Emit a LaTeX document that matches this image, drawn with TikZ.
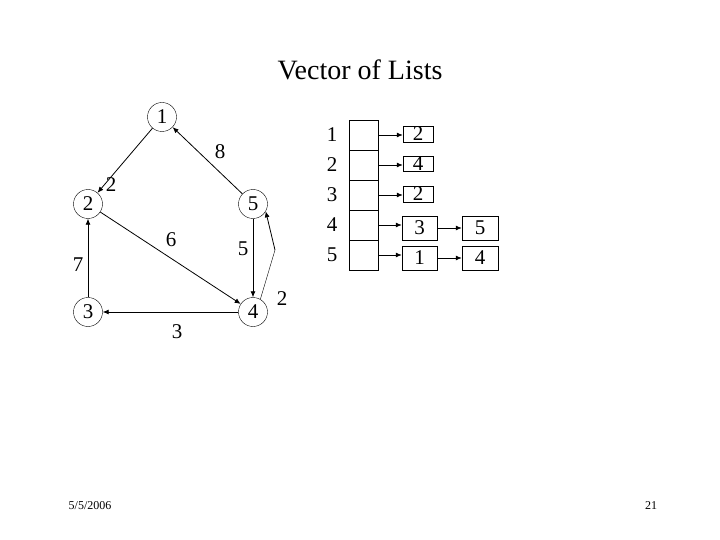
\documentclass[tikz,border=0pt]{standalone}
\usepackage{fontspec}
\setmainfont{Liberation Serif}
\usetikzlibrary{arrows.meta}
\begin{document}
\begin{tikzpicture}[x=1pt,y=-1pt,
  vert/.style={circle,draw,thin,minimum size=29pt,inner sep=0pt,font=\fontsize{21}{21}\selectfont},
  lbl/.style={font=\fontsize{21}{21}\selectfont,inner sep=0pt},
  cell/.style={draw,thin,minimum width=29pt,minimum height=30pt,inner sep=0pt},
  lbox/.style={draw,thin,inner sep=0pt,font=\fontsize{21}{21}\selectfont},
  edge/.style={thick,-{Latex[length=6pt,width=5pt]}}]
\useasboundingbox (0,0) rectangle (720,540);
\node[font=\fontsize{28}{28}\selectfont] (title) at (360,70) {Vector of Lists};
\node[vert] (n1) at (162,117) {1};
\node[vert] (n2) at (88,204) {2};
\node[vert] (n5) at (253,204) {5};
\node[vert] (n3) at (88,312) {3};
\node[vert] (n4) at (253,312) {4};
\draw[edge] (n1) -- (n2);
\draw[edge] (n5) -- (n1);
\draw[edge] (n2) -- (n4);
\draw[edge] (n5) -- (n4);
\draw[edge] (n3) -- (n2);
\draw[edge] (n4) -- (n3);
\coordinate (bend) at (275,250);
\draw[thin] (n4.60) -- (bend);
\draw[edge] (bend) -- (n5.-30);
\node[lbl] (w8) at (220,152) {8};
\node[lbl] (w2a) at (111,185) {2};
\node[lbl] (w6) at (171,240) {6};
\node[lbl] (w5) at (243,249) {5};
\node[lbl] (w7) at (78,265) {7};
\node[lbl] (w3) at (177,332) {3};
\node[lbl] (w2b) at (282,299) {2};
\foreach \i in {1,...,5}{
  \node[cell] (c\i) at (363.5,{105+30*\i}) {};
  \node[lbl] (r\i) at (332,{105+30*\i}) {\i};
}
\node[lbox,minimum width=30pt,minimum height=16pt] (a1) at (418,134) {2};
\node[lbox,minimum width=30pt,minimum height=15pt] (a2) at (418,164) {4};
\node[lbox,minimum width=30pt,minimum height=16pt] (a3) at (418,194) {2};
\node[lbox,minimum width=35pt,minimum height=24pt] (a4) at (419.5,228) {3};
\node[lbox,minimum width=36pt,minimum height=24pt] (b4) at (480,228) {5};
\node[lbox,minimum width=35pt,minimum height=24pt] (a5) at (419.5,258) {1};
\node[lbox,minimum width=36pt,minimum height=24pt] (b5) at (480,258) {4};
\foreach \i in {1,...,5}{
  \draw[edge] (c\i.center -| 378,0) ++(1,0) -- (a\i.west |- c\i.center);
}
\draw[edge] (a4) -- (b4);
\draw[edge] (a5) -- (b5);
\node[font=\fontsize{12}{12}\selectfont] (date) at (90,506) {5/5/2006};
\node[font=\fontsize{12}{12}\selectfont] (page) at (651,506) {21};
\end{tikzpicture}
\end{document}
